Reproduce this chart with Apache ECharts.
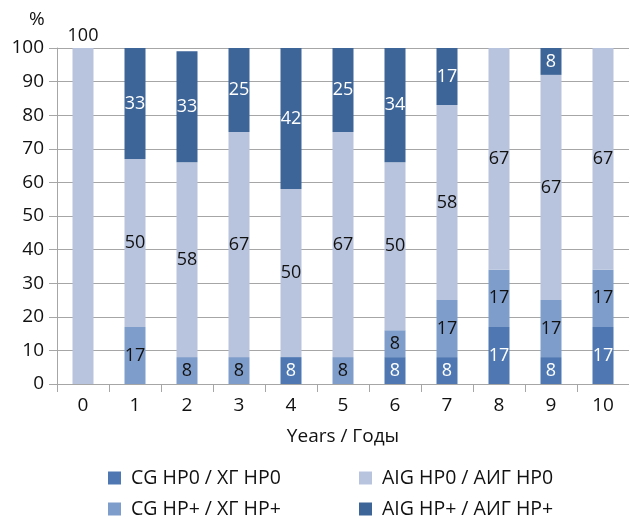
<!DOCTYPE html>
<html>
<head>
<meta charset="utf-8">
<script src="https://cdn.jsdelivr.net/npm/echarts@6/dist/echarts.min.js"></script>
<style>
  html, body { margin: 0; padding: 0; background: #fff; }
  #chart { width: 629px; height: 519px; }
</style>
</head>
<body>
<div id="chart"></div>
<script>
// Share of patients by gastritis group and HP status, per follow-up year (%)
const years = ['0', '1', '2', '3', '4', '5', '6', '7', '8', '9', '10'];
const cgHp0  = [null, null, null, null, 8, null, 8, 8, 17, 8, 17];
const cgHpP  = [null, 17, 8, 8, null, 8, 8, 17, 17, 17, 17];
const aigHp0 = [100, 50, 58, 67, 50, 67, 50, 58, 67, 67, 67];
const aigHpP = [null, 33, 33, 25, 42, 25, 34, 17, null, 8, null];

const yTicks = { min: 0, max: 100, interval: 10 };

const names = [
  'CG HP0 / ХГ HP0',
  'CG HP+ / ХГ HP+',
  'AIG HP0 / АИГ HP0',
  'AIG HP+ / АИГ HP+'
];
const colors = ['#4f78b3', '#7f9dca', '#b8c4de', '#3d6598'];
const labelColors = ['#ffffff', '#111111', '#111111', '#ffffff'];

const FONT = 'Open Sans';

function makeSeries(idx, values) {
  return {
    name: names[idx],
    type: 'bar',
    stack: 'total',
    barWidth: 21,
    itemStyle: { color: colors[idx] },
    label: {
      show: true,
      position: 'inside',
      color: labelColors[idx],
      fontFamily: FONT,
      fontSize: 18
    },
    emphasis: { disabled: true },
    data: values.map((v, i) => {
      // the single full bar in year 0 carries its label above the bar
      if (idx === 2 && i === 0) {
        return { value: v, label: { position: 'top', distance: 3, color: '#111111' } };
      }
      return v;
    })
  };
}

const legendText = {
  fontFamily: FONT, fontSize: 19.5, lineHeight: 20, color: '#111111', padding: [0, 0, 0, 5]
};

function legendColumn(left, items) {
  return {
    orient: 'vertical',
    left: left,
    top: 463,
    height: 54,
    itemWidth: 13,
    itemHeight: 13,
    itemGap: 11,
    icon: 'rect',
    textStyle: legendText,
    data: items
  };
}

const chart = echarts.init(document.getElementById('chart'), null, { renderer: 'canvas' });

chart.setOption({
  animation: false,
  backgroundColor: '#ffffff',
  textStyle: { fontFamily: FONT },
  title: {
    text: '%',
    left: 24,
    top: 5,
    textStyle: { fontFamily: FONT, fontSize: 19, fontWeight: 'normal', color: '#111111' }
  },
  grid: { left: 57, right: 0, top: 48, bottom: 135, containLabel: false },
  legend: [
    legendColumn(103, [names[0], names[1]]),
    legendColumn(354, [names[2], names[3]])
  ],
  xAxis: {
    type: 'category',
    data: years,
    name: 'Years / Годы',
    nameLocation: 'middle',
    nameGap: 43,
    nameTextStyle: { fontFamily: FONT, fontSize: 19, color: '#111111' },
    axisLine: { show: true, lineStyle: { color: '#a6a6a6', width: 1 } },
    axisTick: { show: true, alignWithLabel: false, length: 8, lineStyle: { color: '#a6a6a6' } },
    axisLabel: { fontFamily: FONT, fontSize: 19, color: '#111111', margin: 12 }
  },
  yAxis: {
    type: 'value',
    min: yTicks.min,
    max: yTicks.max,
    interval: yTicks.interval,
    axisLine: { show: true, lineStyle: { color: '#a6a6a6', width: 1 } },
    axisTick: { show: true, inside: false, length: 8, lineStyle: { color: '#a6a6a6' } },
    splitLine: { show: true, lineStyle: { color: '#a6a6a6', width: 1 } },
    axisLabel: { fontFamily: FONT, fontSize: 19, color: '#111111', margin: 13 }
  },
  series: [
    makeSeries(0, cgHp0),
    makeSeries(1, cgHpP),
    makeSeries(2, aigHp0),
    makeSeries(3, aigHpP)
  ]
});
</script>
</body>
</html>
